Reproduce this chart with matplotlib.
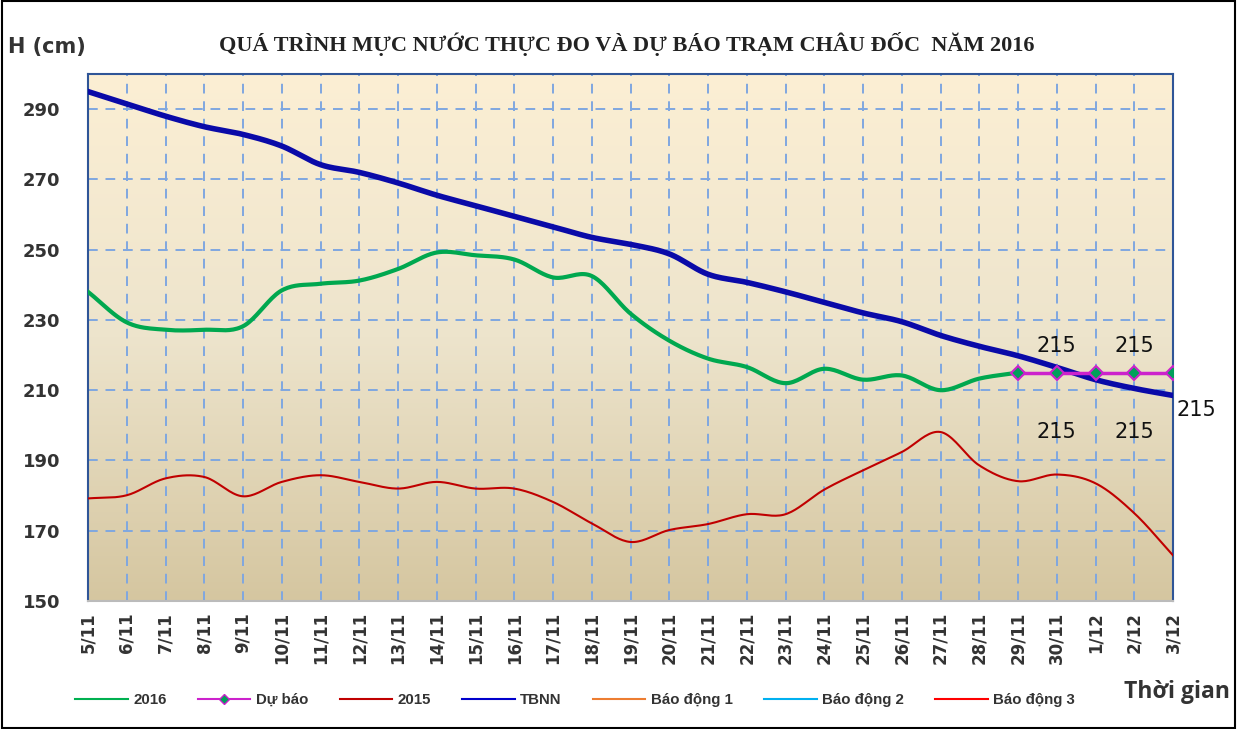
import numpy as np
import matplotlib.pyplot as plt
from matplotlib.lines import Line2D
from matplotlib.patches import Rectangle
from matplotlib.colors import LinearSegmentedColormap

# Ngày (trục hoành)
dates = ["5/11", "6/11", "7/11", "8/11", "9/11", "10/11", "11/11", "12/11", "13/11",
         "14/11", "15/11", "16/11", "17/11", "18/11", "19/11", "20/11", "21/11", "22/11",
         "23/11", "24/11", "25/11", "26/11", "27/11", "28/11", "29/11", "30/11",
         "1/12", "2/12", "3/12"]

# Mực nước thực đo 2016 (đến 29/11)
h2016 = [238, 229.3, 227.2, 227.2, 228.2, 238.4, 240.3, 241.2, 244.5, 249.2, 248.4,
         247.2, 242.1, 242.5, 231.8, 224.1, 219, 216.6, 212, 216.1, 213, 214.2,
         210, 213.3, 215]

# Dự báo từ 29/11 đến 3/12
forecast_dates = ["29/11", "30/11", "1/12", "2/12", "3/12"]
forecast = [215, 215, 215, 215, 215]

h2015 = [179.2, 180.1, 184.9, 185.3, 179.8, 183.9, 185.8, 183.9, 182, 183.9, 182,
         182, 178.2, 172.1, 166.8, 170.2, 171.9, 174.7, 174.7, 181.7, 187.2, 192.4,
         198.1, 188.6, 184.1, 186, 183.5, 175, 163]

tbnn = [295, 291.5, 288, 285, 282.8, 279.5, 274.2, 272, 269, 265.5, 262.5, 259.5,
        256.5, 253.5, 251.5, 248.8, 243, 240.7, 238, 235, 232, 229.5, 225.6, 222.5,
        219.8, 216.5, 213, 210.5, 208.5]

yticks = [150, 170, 190, 210, 230, 250, 270, 290]


def smooth(x, y, n=20):
    # Catmull-Rom curve through the points, like Excel's smoothed line
    x = np.asarray(x, float)
    y = np.asarray(y, float)
    px = np.concatenate([[2 * x[0] - x[1]], x, [2 * x[-1] - x[-2]]])
    py = np.concatenate([[2 * y[0] - y[1]], y, [2 * y[-1] - y[-2]]])
    xs, ys = [], []
    t = np.linspace(0, 1, n, endpoint=False)
    for i in range(1, len(px) - 2):
        for p, out in ((px, xs), (py, ys)):
            p0, p1, p2, p3 = p[i - 1], p[i], p[i + 1], p[i + 2]
            out.extend(0.5 * (2 * p1 + (-p0 + p2) * t + (2 * p0 - 5 * p1 + 4 * p2 - p3) * t ** 2
                              + (-p0 + 3 * p1 - 3 * p2 + p3) * t ** 3))
    xs.append(x[-1])
    ys.append(y[-1])
    return xs, ys


fig = plt.figure(figsize=(12.37, 7.29), dpi=100)
ax = fig.add_axes([88 / 1237, 1 - 601 / 729, (1173 - 88) / 1237, (601 - 74) / 729])

x = np.arange(len(dates))
ax.set_xlim(0, len(dates) - 1)
ax.set_ylim(150, 300)

# gradient background
cmap = LinearSegmentedColormap.from_list("bg", ["#D5C6A0", "#EDE4CC", "#FCEFD4"])
ax.imshow(np.linspace(0, 1, 256).reshape(-1, 1), cmap=cmap, aspect="auto",
          extent=[0, len(dates) - 1, 150, 300], origin="lower", zorder=0)

ax.set_yticks(yticks)
ax.set_xticks(x)
ax.set_xticklabels(dates, rotation=90, fontsize=12, fontweight="bold", color="#333333")
ax.set_yticklabels(yticks, fontsize=13, fontweight="bold", color="#333333")
ax.tick_params(length=0, pad=8)
ax.tick_params(axis="y", pad=20)
ax.grid(True, color="#7FA7E0", linestyle=(0, (5, 4)), linewidth=1.4, zorder=1)
for s in ["left", "right", "top"]:
    ax.spines[s].set_color("#2F5597")
    ax.spines[s].set_linewidth(1.5)
ax.spines["bottom"].set_color("#BBBBBB")
ax.spines["bottom"].set_linewidth(1.5)

ax.plot(*smooth(x, tbnn), color="#0A0AA8", linewidth=4, zorder=4)
ax.plot(*smooth(x[:len(h2016)], h2016), color="#00A84F", linewidth=3, zorder=3)
ax.plot(*smooth(x, h2015), color="#C00000", linewidth=1.5, zorder=3)
fx = [dates.index(d) for d in forecast_dates]
ax.plot(fx, forecast, color="#CC22CC", linewidth=2.5, marker="D", markersize=7,
        markerfacecolor="#00A05A", markeredgecolor="#CC22CC", markeredgewidth=1.5, zorder=5)

# data labels
for i in [1, 3]:
    ax.text(fx[i], forecast[i] + 7.5, str(forecast[i]), ha="center", va="center",
            fontsize=15, color="#111111", zorder=6)
    ax.text(fx[i], forecast[i] - 17, str(forecast[i]), ha="center", va="center",
            fontsize=15, color="#111111", zorder=6)
ax.text(fx[4] + 0.6, forecast[4] - 10.5, str(forecast[4]), ha="center", va="center",
        fontsize=15, color="#111111", zorder=6, clip_on=False)

fig.text(627 / 1237, 1 - 44 / 729, "QUÁ TRÌNH MỰC NƯỚC THỰC ĐO VÀ DỰ BÁO TRẠM CHÂU ĐỐC  NĂM 2016",
         ha="center", va="center", fontsize=16, fontweight="bold", family="Liberation Serif",
         color="#222222")
fig.text(8 / 1237, 1 - 47 / 729, "H (cm)", ha="left", va="center", fontsize=15,
         fontweight="bold", color="#333333")
fig.text(1230 / 1237, 1 - 692 / 729, "Thời gian", ha="right", va="center", fontsize=16.5,
         fontweight="bold", family="Open Sans", color="#333333")

handles = [
    Line2D([], [], color="#00B050", lw=1.5),
    Line2D([], [], color="#CC22CC", lw=1.5, marker="D", markersize=5,
           markerfacecolor="#00A05A", markeredgecolor="#CC22CC"),
    Line2D([], [], color="#C00000", lw=1.5),
    Line2D([], [], color="#0000CC", lw=1.5),
    Line2D([], [], color="#ED7D31", lw=1.5),
    Line2D([], [], color="#00B0F0", lw=1.5),
    Line2D([], [], color="#FF0000", lw=1.5),
]
labels = ["2016", "Dự báo", "2015", "TBNN", "Báo động 1", "Báo động 2", "Báo động 3"]
fig.legend(handles, labels, loc="center", bbox_to_anchor=(575 / 1237, 1 - 700 / 729),
           ncol=7, frameon=False, handlelength=3.5, handletextpad=0.35, columnspacing=2.1,
           prop={"size": 10.8, "weight": "bold", "family": "Liberation Sans"},
           labelcolor="#333333")

fig.patches.append(Rectangle((0.002, 0.002), 0.996, 0.996, transform=fig.transFigure,
                             fill=False, edgecolor="black", linewidth=1.5))

fig.savefig("out.png", dpi=100)
